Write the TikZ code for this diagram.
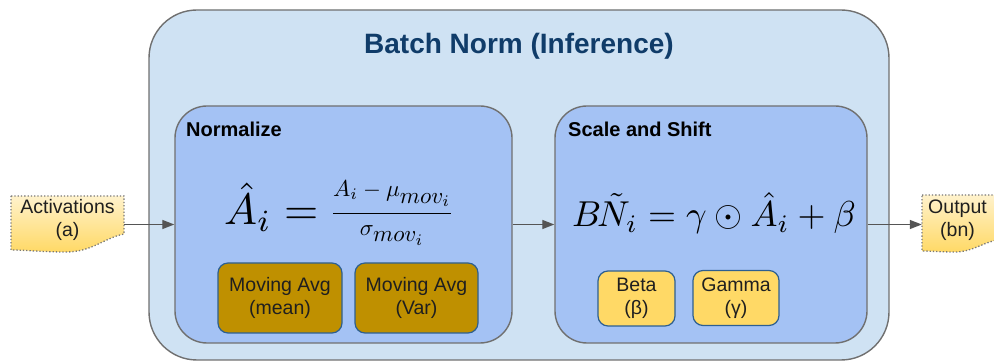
\documentclass[tikz,border=0pt]{standalone}
\usepackage{graphicx}
\usepackage[no-math]{fontspec}
\setmainfont{Liberation Sans}
\usetikzlibrary{arrows.meta}

\definecolor{outerfill}{RGB}{207,226,243}
\definecolor{innerfill}{RGB}{164,194,244}
\definecolor{edgegray}{RGB}{112,112,112}
\definecolor{avgfill}{RGB}{191,144,0}
\definecolor{paramfill}{RGB}{255,217,102}
\definecolor{chipedge}{RGB}{45,95,145}
\definecolor{titleblue}{RGB}{16,60,105}
\definecolor{docedge}{RGB}{120,120,120}
\definecolor{doctop}{RGB}{255,242,204}
\definecolor{docbottom}{RGB}{255,217,102}
\definecolor{arrowgray}{RGB}{85,85,85}

\newcommand\bodyfont{\fontsize{19.5}{23}\selectfont}
\newcommand\labelfont{\bfseries\fontsize{20}{24}\selectfont}

\tikzset{
  panel/.style={rectangle, draw=edgegray, line width=1.4pt, rounded corners=48pt, fill=outerfill},
  stage/.style={rectangle, draw=edgegray, line width=1.4pt, rounded corners=32pt, fill=innerfill},
  chip/.style={rectangle, draw=chipedge, line width=1.2pt, rounded corners=10pt,
               align=center, font=\bodyfont, inner sep=0pt, text=black!88},
  avgchip/.style={chip, fill=avgfill},
  parchip/.style={chip, fill=paramfill},
  docshape/.style={draw=docedge, line width=1.3pt, dash pattern=on 1.3pt off 2pt,
                   top color=doctop, bottom color=docbottom},
  doctext/.style={align=center, font=\bodyfont, inner sep=0pt, text=black!88},
  stagelabel/.style={anchor=base west, font=\labelfont, inner sep=0pt},
  flow/.style={draw=arrowgray, line width=1.3pt, -{Triangle[length=12pt,width=9pt]}},
}

\begin{document}
\begin{tikzpicture}[x=1pt,y=-1pt]
\useasboundingbox (0,0) rectangle (994,363);

% outer batch-norm block
\node[panel, minimum width=740pt, minimum height=350pt] (bn) at (519,185) {};
\node[font=\bfseries\fontsize{28}{32}\selectfont, text=titleblue, inner sep=0pt] (title) at (519,46) {Batch Norm (Inference)};

% the two stages
\node[stage, minimum width=337pt, minimum height=237pt] (norm) at (343.5,224.5) {};
\node[stage, minimum width=312pt, minimum height=237pt] (ss) at (711,224.5) {};
\node[stagelabel] (normlbl) at (186,137) {Normalize};
\node[stagelabel] (sslbl) at (568,137) {Scale and Shift};

% normalisation formula (left side large, fraction smaller, bar on the axis of "=")
\node[anchor=base west, inner sep=0pt] (eqnorm) at (224,225)
  {\scalebox{4.4}{$\hat{A}_i =$}\hspace{12pt}\raisebox{5.7pt}{\scalebox{2.3}{$\displaystyle
    \frac{A_i-\mu_{\lower1.4pt\hbox{$\textstyle mov_i$}}\rule[-6pt]{0pt}{1pt}}{\sigma_{\lower1.4pt\hbox{$\textstyle mov_i$}}}$}}};

% scale-and-shift formula
\node[anchor=base, inner sep=0pt] (eqscale) at (714,227)
  {\scalebox{3.6}{$B\mkern-2mu\tilde{N}_i = \gamma \odot \hat{A}_i + \beta$}};

% stored statistics and learned parameters
\node[avgchip, minimum width=124pt, minimum height=70pt] (mavg) at (280,298) {Moving Avg\\(mean)};
\node[avgchip, minimum width=123pt, minimum height=70pt] (mvar) at (416.5,298) {Moving Avg\\(Var)};
\node[parchip, minimum width=77pt, minimum height=55pt] (beta) at (636.5,298.5) {Beta\\(β)};
\node[parchip, minimum width=86pt, minimum height=55pt] (gamma) at (736,298) {Gamma\\(γ)};

% input and output documents
\path[docshape] (11,196) -- (124,196) -- (124,234)
  .. controls (104,238) and (92,252) .. (66,252)
  .. controls (42,252) and (26,250) .. (11,250) -- cycle;
\node[doctext, minimum width=113pt] (act) at (67.5,220) {Activations\\(a)};

\path[docshape] (922,195) -- (997,195) -- (997,240)
  .. controls (982,243) and (972,252) .. (955,252)
  .. controls (940,252) and (930,251) .. (922,251) -- cycle;
\node[doctext, minimum width=71pt] (out) at (957.5,220) {Output\\(bn)};

% data flow
\draw[flow] (act.east |- norm.west) -- (norm.west);
\draw[flow] (norm.east) -- (ss.west);
\draw[flow] (ss.east) -- (ss.east -| out.west);
\end{tikzpicture}
\end{document}
